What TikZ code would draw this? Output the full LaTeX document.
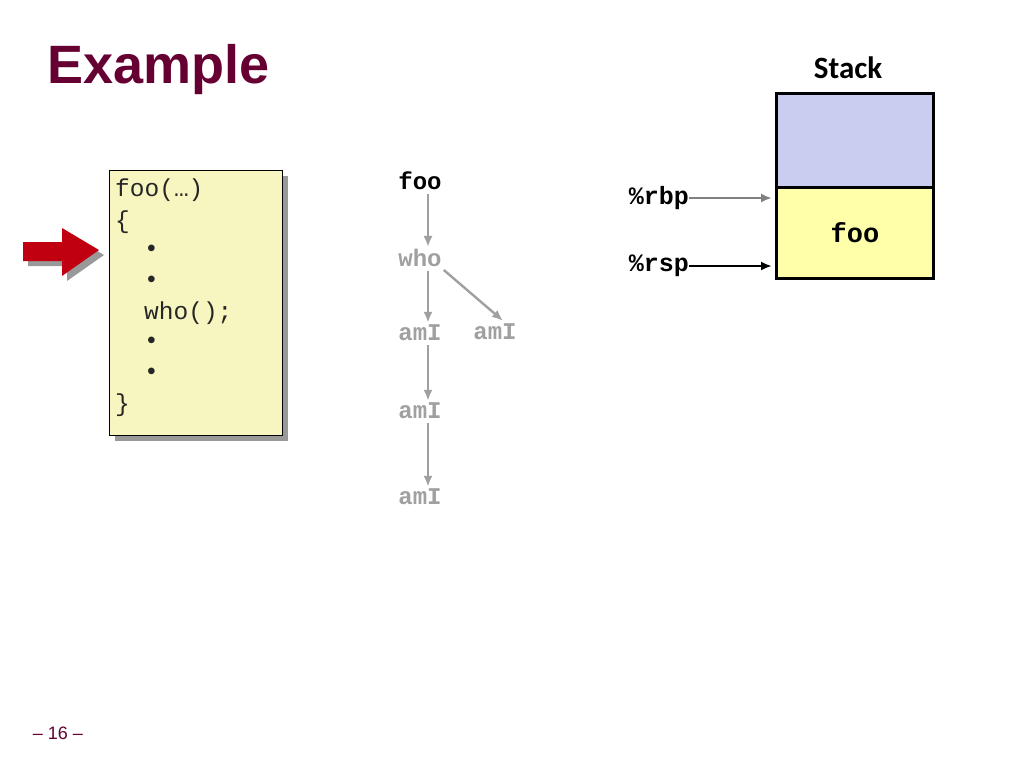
\documentclass[tikz,border=0pt]{standalone}
\usepackage{fontspec}
\usetikzlibrary{arrows.meta}
\setmainfont{Liberation Sans}
\newfontfamily\monofont{Liberation Mono}
\newfontfamily\calfont{Carlito}
\definecolor{titlered}{HTML}{660033}
\definecolor{stackblue}{HTML}{CACCF0}
\definecolor{stackyellow}{HTML}{FFFFAA}
\definecolor{codeyellow}{HTML}{F8F6C0}
\definecolor{treegray}{HTML}{A0A0A0}
\definecolor{arrowred}{HTML}{C00010}
\definecolor{shadowgray}{HTML}{999999}
\begin{document}
\begin{tikzpicture}[x=1pt,y=-1pt,
  codeline/.style={anchor=west,inner sep=0pt,text=black!85,font=\monofont\fontsize{24.5}{24.5}\selectfont},
  treenode/.style={inner sep=1pt,font=\monofont\bfseries\fontsize{24}{24}\selectfont,text=treegray},
  treearrow/.style={draw=treegray,line width=2.4pt,-{Latex[length=11pt,width=9pt]}},
  regarrow/.style={line width=2.4pt,-{Latex[length=11pt,width=9pt]}},
  reglabel/.style={anchor=east,inner sep=0pt,font=\monofont\bfseries\fontsize{25}{25}\selectfont}]
\useasboundingbox (0,0) rectangle (1024,768);
\fill[white] (0,0) rectangle (1024,768);
% title
\node[anchor=west,inner sep=0pt,text=titlered,font=\bfseries\fontsize{54}{54}\selectfont] (title) at (47,70) {Example};
\node[inner sep=0pt,font=\calfont\bfseries\fontsize{31}{31}\selectfont] (stacktitle) at (848,68) {Stack};
% code box
\fill[shadowgray] (115,176) rectangle (288,441);
\draw[fill=codeyellow,line width=1pt] (109,170) rectangle (282,435);
\node[codeline] (l1) at (115,190) {foo(…)};
\node[codeline] (l2) at (115,222) {\{};
\node[codeline] (l3) at (144,251) {•};
\node[codeline] (l4) at (144,282) {•};
\node[codeline] (l5) at (144,313) {who();};
\node[codeline] (l6) at (144,343) {•};
\node[codeline] (l7) at (144,374) {•};
\node[codeline] (l8) at (115,405) {\}};
% red arrow
\fill[shadowgray] (28,247) -- (67,247) -- (67,233) -- (104,255) -- (67,281) -- (67,266) -- (28,266) -- cycle;
\fill[arrowred] (23,242) -- (62,242) -- (62,228) -- (99,250) -- (62,276) -- (62,261) -- (23,261) -- cycle;
% call tree
\node[treenode,text=black] (tfoo) at (420,181) {foo};
\node[treenode] (twho) at (420,258) {who};
\node[treenode] (ta1) at (420,333) {amI};
\node[treenode] (ta2) at (495,332) {amI};
\node[treenode] (ta3) at (420,411) {amI};
\node[treenode] (ta4) at (420,497) {amI};
\draw[treearrow] ([xshift=8pt,yshift=-3pt]tfoo.south) -- ([xshift=8pt,yshift=1pt]twho.north);
\draw[treearrow] ([xshift=8pt,yshift=-3pt]twho.south) -- ([xshift=8pt,yshift=1pt]ta1.north);
\draw[treearrow] ([xshift=8pt,yshift=-3pt]ta1.south) -- ([xshift=8pt,yshift=1pt]ta3.north);
\draw[treearrow] ([xshift=8pt,yshift=-3pt]ta3.south) -- ([xshift=8pt,yshift=1pt]ta4.north);
\draw[treearrow] ([xshift=1pt,yshift=-2pt]twho.south east) -- ([xshift=8pt,yshift=2pt]ta2.north);
% stack
\draw[fill=stackblue,line width=3pt] (776,93) rectangle (933,187);
\draw[fill=stackyellow,line width=3pt] (776,187) rectangle (933,278);
\node[inner sep=0pt,font=\monofont\bfseries\fontsize{27}{27}\selectfont] (sfoo) at (855,233) {foo};
\coordinate (rbptip) at (772,198);
\coordinate (rsptip) at (772,266);
\node[reglabel] (rbp) at (689,198) {\%rbp};
\node[reglabel] (rsp) at (689,266) {\%rsp};
\draw[regarrow,draw=gray] (rbp.east) -- (rbptip);
\draw[regarrow,draw=black] (rsp.east) -- (rsptip);
% page number
\node[inner sep=0pt,text=titlered,font=\fontsize{18}{18}\selectfont] (pagenum) at (58,733) {– 16 –};
\end{tikzpicture}
\end{document}
